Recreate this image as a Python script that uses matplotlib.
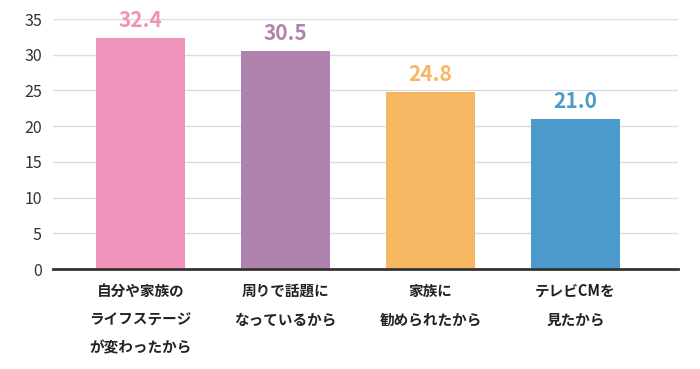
import matplotlib
matplotlib.use("Agg")
import matplotlib.pyplot as plt

plt.rcParams['font.family'] = ['Noto Sans CJK JP', 'DejaVu Sans']

categories = ["自分や家族の\nライフステージ\nが変わったから",
              "周りで話題に\nなっているから",
              "家族に\n勧められたから",
              "テレビCMを\n見たから"]
values = [32.4, 30.5, 24.8, 21.0]
value_labels = ["32.4", "30.5", "24.8", "21.0"]
colors = ["#EF93BA", "#B083AE", "#F7B662", "#4B9ACB"]
yticks = [0, 5, 10, 15, 20, 25, 30, 35]

fig = plt.figure(figsize=(7, 3.69), dpi=100)
ax = fig.add_axes([53/700, 100/369, 625/700, 250/369])

x = list(range(len(categories)))
ax.bar(x, values, width=0.614, color=colors, zorder=3)
ax.set_xlim(-0.603, 3.707)
ax.set_ylim(0, 35)
ax.set_yticks(yticks)
ax.yaxis.grid(True, color="#dcdcdc", linewidth=1, zorder=0)
ax.set_axisbelow(True)
for s in ["top", "right", "left"]:
    ax.spines[s].set_visible(False)
ax.spines["bottom"].set_color("#333333")
ax.spines["bottom"].set_linewidth(2)
ax.spines["bottom"].set_zorder(4)
ax.tick_params(axis="y", length=0, labelsize=11.5, colors="#333333", pad=8)
ax.tick_params(axis="x", length=0, pad=10)
ax.set_xticks(x)
ax.set_xticklabels(categories, fontsize=10.5, fontweight="bold", color="#222222",
                   linespacing=1.95, va="top")

for xi, v, lab, c in zip(x, values, value_labels, colors):
    ax.annotate(lab, (xi, v), xytext=(0, 5), textcoords="offset points",
                ha="center", va="bottom", fontsize=15, fontweight="bold", color=c,
                annotation_clip=False)

fig.savefig("out.png", dpi=100)
